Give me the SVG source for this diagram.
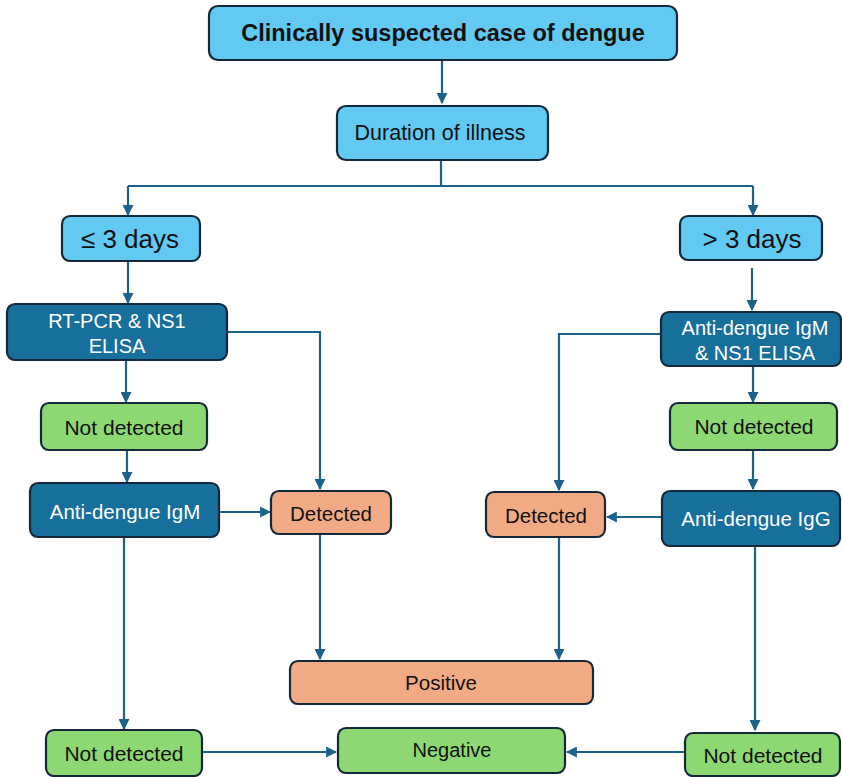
<svg xmlns="http://www.w3.org/2000/svg" width="842" height="777" viewBox="0 0 842 777">
<style>
  .box{stroke:#14283a;stroke-width:2.2}
  .lb{fill:#61c9f2}
  .db{fill:#176f9c}
  .gr{fill:#8ed873}
  .sa{fill:#f2aa84}
  text{font-family:"Liberation Sans","Noto Sans",sans-serif;text-anchor:middle;dominant-baseline:central}
  .dk{fill:#111}
  .wt{fill:#ffffff}
  .conn path{fill:none;stroke:#1b628a;stroke-width:2.2}
</style>
<defs>
  <marker id="ah" viewBox="0 0 10 10" refX="9" refY="5" markerWidth="5" markerHeight="5" orient="auto" markerUnits="strokeWidth">
    <path d="M0,0 L10,5 L0,10 z" fill="#1b628a"/>
  </marker>
</defs>
<rect width="842" height="777" fill="#ffffff"/>

<g class="conn">
  <path d="M442,61 V103" marker-end="url(#ah)"/>
  <path d="M441,160 V186 M128,186 H753"/>
  <path d="M128,186 V215" marker-end="url(#ah)"/>
  <path d="M753,186 V215" marker-end="url(#ah)"/>
  <path d="M128,261 V303" marker-end="url(#ah)"/>
  <path d="M752,268 V310" marker-end="url(#ah)"/>
  <path d="M227,332 H320 V489" marker-end="url(#ah)"/>
  <path d="M661,334 H559 V490" marker-end="url(#ah)"/>
  <path d="M126,360 V402" marker-end="url(#ah)"/>
  <path d="M753,365 V402" marker-end="url(#ah)"/>
  <path d="M127,450 V482" marker-end="url(#ah)"/>
  <path d="M753,450 V489" marker-end="url(#ah)"/>
  <path d="M219,512 H270" marker-end="url(#ah)"/>
  <path d="M662,517 H607" marker-end="url(#ah)"/>
  <path d="M320,534 V659" marker-end="url(#ah)"/>
  <path d="M559,537 V659" marker-end="url(#ah)"/>
  <path d="M124,537 V729" marker-end="url(#ah)"/>
  <path d="M755,546 V730" marker-end="url(#ah)"/>
  <path d="M202,752 H336" marker-end="url(#ah)"/>
  <path d="M685,752 H567" marker-end="url(#ah)"/>
</g>

<g id="n-suspected">
  <rect class="box lb" x="209" y="6" width="468" height="54" rx="9"/>
  <text class="dk" x="443" y="33" font-size="23.5" font-weight="bold">Clinically suspected case of dengue</text>
</g>
<g id="n-duration">
  <rect class="box lb" x="337" y="106" width="211" height="54" rx="9"/>
  <text class="dk" x="440" y="133" font-size="21.5">Duration of illness</text>
</g>
<g id="n-le3">
  <rect class="box lb" x="62" y="216" width="138" height="45" rx="8"/>
  <text class="dk" x="130" y="239" font-size="26">≤ 3 days</text>
</g>
<g id="n-gt3">
  <rect class="box lb" x="680" y="216" width="142" height="44" rx="8"/>
  <text class="dk" x="752" y="239" font-size="26">&gt; 3 days</text>
</g>
<g id="n-rtpcr">
  <rect class="box db" x="7" y="304" width="220" height="56" rx="8"/>
  <text class="wt" x="117" y="321" font-size="20">RT-PCR &amp; NS1</text>
  <text class="wt" x="117" y="346" font-size="20">ELISA</text>
</g>
<g id="n-igm-ns1">
  <rect class="box db" x="661" y="312" width="180" height="54" rx="8"/>
  <text class="wt" x="755" y="328" font-size="20">Anti-dengue IgM</text>
  <text class="wt" x="755" y="353" font-size="20">&amp; NS1 ELISA</text>
</g>
<g id="n-notdet-l1">
  <rect class="box gr" x="41" y="403" width="166" height="47" rx="8"/>
  <text class="dk" x="124" y="427" font-size="21">Not detected</text>
</g>
<g id="n-notdet-r1">
  <rect class="box gr" x="670" y="403" width="167" height="47" rx="8"/>
  <text class="dk" x="754" y="426" font-size="21">Not detected</text>
</g>
<g id="n-igm">
  <rect class="box db" x="30" y="483" width="189" height="54" rx="8"/>
  <text class="wt" x="125" y="511" font-size="20.5">Anti-dengue IgM</text>
</g>
<g id="n-det-l">
  <rect class="box sa" x="271" y="491" width="120" height="43" rx="8"/>
  <text class="dk" x="331" y="513" font-size="20.5">Detected</text>
</g>
<g id="n-det-r">
  <rect class="box sa" x="486" y="492" width="119" height="45" rx="8"/>
  <text class="dk" x="546" y="515" font-size="20.5">Detected</text>
</g>
<g id="n-igg">
  <rect class="box db" x="662" y="491" width="178" height="55" rx="8"/>
  <text class="wt" x="756" y="518" font-size="20.5">Anti-dengue IgG</text>
</g>
<g id="n-positive">
  <rect class="box sa" x="290" y="661" width="303" height="43" rx="8"/>
  <text class="dk" x="441" y="682" font-size="20.5">Positive</text>
</g>
<g id="n-notdet-l2">
  <rect class="box gr" x="46" y="730" width="156" height="46" rx="8"/>
  <text class="dk" x="124" y="753" font-size="21">Not detected</text>
</g>
<g id="n-negative">
  <rect class="box gr" x="338" y="728" width="227" height="45" rx="8"/>
  <text class="dk" x="452" y="750" font-size="20">Negative</text>
</g>
<g id="n-notdet-r2">
  <rect class="box gr" x="685" y="733" width="155" height="43" rx="8"/>
  <text class="dk" x="763" y="755" font-size="21">Not detected</text>
</g>
</svg>
